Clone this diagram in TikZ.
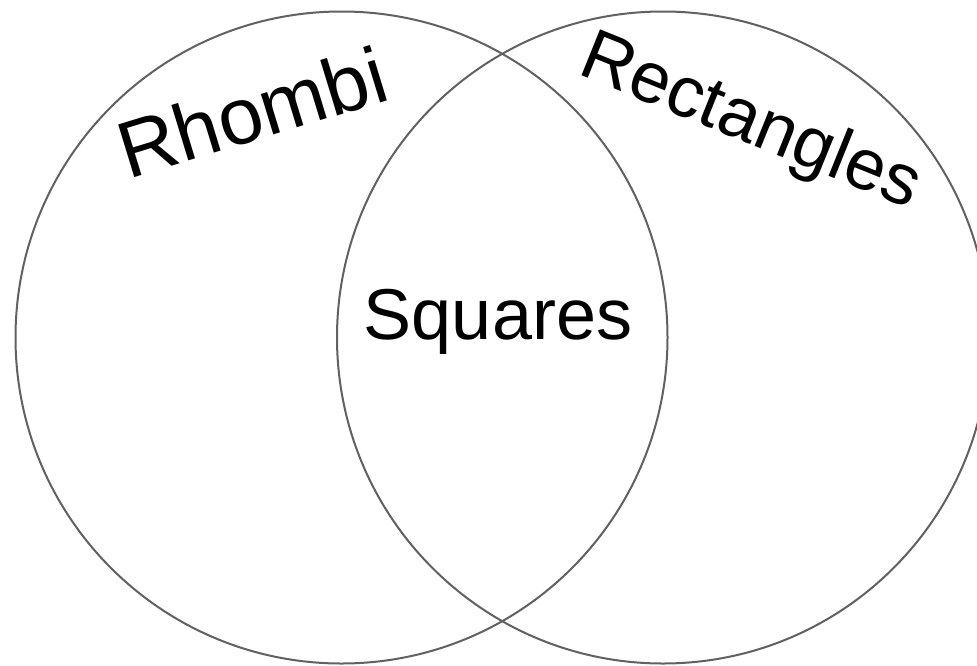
\documentclass[tikz,border=0pt]{standalone}
\usepackage{fontspec}
\setmainfont{Liberation Sans}
\begin{document}
\begin{tikzpicture}[x=1pt,y=-1pt,
  setcircle/.style={draw=black!62,line width=2pt},
  label/.style={font=\fontsize{72}{72}\selectfont,inner sep=0pt}]
\useasboundingbox (0,0) rectangle (977,665);
\clip (0,0) rectangle (977,665);
\fill[white] (0,0) rectangle (977,665);
\node[setcircle,circle,minimum size=652pt,inner sep=0pt] (rhombi) at (341.5,337.5) {};
\node[setcircle,circle,minimum size=652pt,inner sep=0pt] (rect) at (663,337.5) {};
\node[label,font=\fontsize{80}{80}\selectfont,rotate=17] (lrh) at (252,112) {Rhombi};
\node[label,rotate=-22] (lre) at (750,124) {Rectangles};
\node[label] (lsq) at (498,322) {Squares};
\end{tikzpicture}
\end{document}
